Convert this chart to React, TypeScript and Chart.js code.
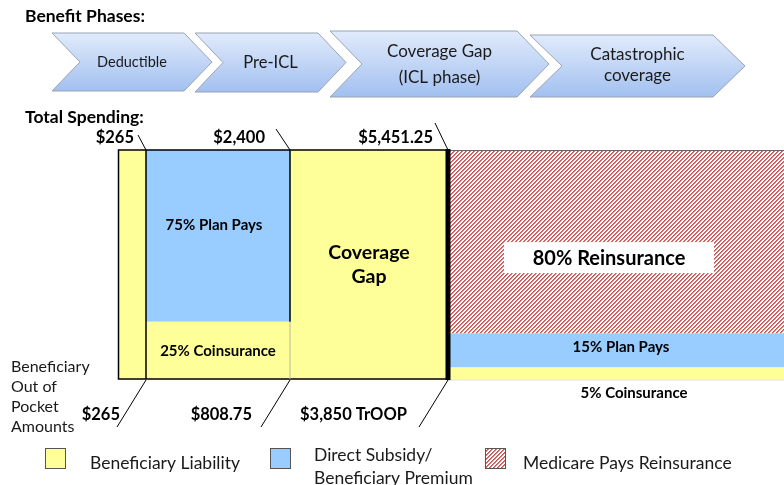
import React, { useEffect, useRef } from "react";
import { Chart, registerables } from "chart.js";
Chart.register(...registerables);

// ---- data ----
const phaseHeaders = [["Deductible"], ["Pre-ICL"], ["Coverage Gap", "(ICL phase)"], ["Catastrophic", "coverage"]];
const phaseWidth = [28, 144, 158, 336]; // schematic (not to scale) width of each phase
const beneficiaryShare = [100, 25, 100, 5];
const planShare = [0, 75, 0, 15];
const reinsuranceShare = [0, 0, 0, 80];
const totalSpendingLabels = ["$265", "$2,400", "$5,451.25"];
const outOfPocketLabels = ["$265", "$808.75", "$3,850 TrOOP"];
const legendLabels = [["Beneficiary Liability"], ["Direct Subsidy/", "Beneficiary Premium"], ["Medicare Pays Reinsurance"]];

const YELLOW = "#FFFF99";
const BLUE = "#99CCFF";
const FONT = "Lato, 'Open Sans', sans-serif";

function makeHatch(): CanvasPattern | string {
  const c = document.createElement("canvas");
  c.width = 8;
  c.height = 8;
  const g = c.getContext("2d");
  if (!g) return "#e8a0a0";
  const img = g.createImageData(8, 8);
  for (let y = 0; y < 8; y++) {
    for (let x = 0; x < 8; x++) {
      const d = (x + y) % 4;
      const i = (y * 8 + x) * 4;
      let r = 255, gg = 255, b = 255;
      if (d === 0) { r = 200; gg = 80; b = 78; }
      else if (d === 1) { r = 222; gg = 130; b = 128; }
      img.data[i] = r;
      img.data[i + 1] = gg;
      img.data[i + 2] = b;
      img.data[i + 3] = 255;
    }
  }
  g.putImageData(img, 0, 0);
  return g.createPattern(c, "repeat") || "#e8a0a0";
}

export default function App() {
  const ref = useRef<HTMLCanvasElement | null>(null);
  useEffect(() => {
    const canvas = ref.current;
    if (!canvas) return;
    const hatch = makeHatch();
    const edges = [0];
    phaseWidth.forEach((w) => edges.push(edges[edges.length - 1] + w));
    const total = edges[edges.length - 1];

    const datasets: any[] = [];
    phaseWidth.forEach((_, i) => {
      const layers = [
        { v: beneficiaryShare[i], c: YELLOW, n: "Beneficiary Liability" },
        { v: planShare[i], c: BLUE, n: "Direct Subsidy/Beneficiary Premium" },
        { v: reinsuranceShare[i], c: hatch, n: "Medicare Pays Reinsurance" },
      ];
      let base = 0;
      layers.forEach((l) => {
        if (l.v > 0) {
          datasets.push({
            label: l.n,
            data: [
              { x: edges[i], y: base + l.v },
              { x: edges[i + 1], y: base + l.v },
            ],
            fill: { value: base },
            backgroundColor: l.c,
            borderWidth: 0,
            pointRadius: 0,
            tension: 0,
          });
        }
        base += l.v;
      });
    });

    const deco = {
      id: "deco",
      afterDraw(chart: any) {
        const ctx = chart.ctx as CanvasRenderingContext2D;
        const xs = chart.scales.x;
        const ys = chart.scales.y;
        const X = (v: number) => xs.getPixelForValue(v);
        const Y = (v: number) => ys.getPixelForValue(v);
        const top = Y(100);
        const bot = Y(0);
        ctx.save();

        // ---- header ----
        ctx.fillStyle = "#000";
        ctx.textBaseline = "alphabetic";
        ctx.textAlign = "left";
        ctx.font = `bold 17.5px ${FONT}`;
        ctx.fillText("Benefit Phases:", 25, 22);
        ctx.fillText("Total Spending:", 25, 123);

        const chevrons = [
          { l: 52, r: 212, t: 33, b: 91, d: 28, f: 14.5, o: [0] },
          { l: 195, r: 346, t: 33, b: 92, d: 28, f: 16.5, o: [0] },
          { l: 330, r: 549, t: 31, b: 97, d: 32, f: 17, o: [-12, 14] },
          { l: 530, r: 745, t: 35, b: 97, d: 32, f: 17, o: [-11, 10] },
        ];
        chevrons.forEach((c, i) => {
          const m = (c.t + c.b) / 2;
          const grad = ctx.createLinearGradient(0, c.t, 0, c.b);
          grad.addColorStop(0, "#e1ebfb");
          grad.addColorStop(1, "#a2c0f0");
          ctx.beginPath();
          ctx.moveTo(c.l, c.t);
          ctx.lineTo(c.r - c.d, c.t);
          ctx.lineTo(c.r, m);
          ctx.lineTo(c.r - c.d, c.b);
          ctx.lineTo(c.l, c.b);
          ctx.lineTo(c.l + c.d, m);
          ctx.closePath();
          ctx.fillStyle = grad;
          ctx.fill();
          ctx.strokeStyle = "#9aa3b3";
          ctx.lineWidth = 1;
          ctx.stroke();
          const lines = phaseHeaders[i];
          const cx = (c.l + c.r) / 2;
          ctx.fillStyle = "#1a1a1a";
          ctx.font = `${c.f}px ${FONT}`;
          ctx.textAlign = "center";
          ctx.textBaseline = "middle";
          lines.forEach((s, j) => ctx.fillText(s, cx, m + c.o[j]));
        });

        // ---- borders ----
        ctx.strokeStyle = "#000";
        ctx.lineWidth = 1.5;
        ctx.strokeRect(X(edges[0]) + 0.5, top, X(edges[3]) - X(edges[0]), bot - top);
        ctx.beginPath();
        ctx.moveTo(X(edges[1]), top);
        ctx.lineTo(X(edges[1]), bot);
        ctx.moveTo(X(edges[2]), top);
        ctx.lineTo(X(edges[2]), Y(beneficiaryShare[1]));
        ctx.stroke();
        ctx.strokeStyle = "#b8b8a0";
        ctx.lineWidth = 1;
        ctx.beginPath();
        ctx.moveTo(X(edges[2]), Y(beneficiaryShare[1]));
        ctx.lineTo(X(edges[2]), bot);
        ctx.stroke();
        ctx.strokeStyle = "#666";
        ctx.beginPath();
        ctx.moveTo(X(edges[3]), top + 0.5);
        ctx.lineTo(X(edges[4]), top + 0.5);
        ctx.stroke();
        ctx.strokeStyle = "#ddd";
        ctx.beginPath();
        ctx.moveTo(X(edges[3]), bot + 1);
        ctx.lineTo(X(edges[4]), bot + 1);
        ctx.stroke();
        ctx.fillStyle = "#000";
        ctx.fillRect(X(edges[3]) - 2.5, top - 1, 5, bot - top + 2);

        // ---- leader lines & spending labels ----
        const leadTop = [[-8, -15], [-14, -21], [-13, -27]];
        const topLabelEnd = [-12, -25, -15];
        const botLabelEnd = [-26, -38, -41];
        ctx.strokeStyle = "#000";
        ctx.lineWidth = 1;
        ctx.font = `bold 16.5px ${FONT}`;
        ctx.textBaseline = "alphabetic";
        for (let k = 1; k <= 3; k++) {
          const ex = X(edges[k]);
          ctx.beginPath();
          ctx.moveTo(ex + leadTop[k - 1][0], top + leadTop[k - 1][1]);
          ctx.lineTo(ex, top);
          ctx.moveTo(ex, bot + 1);
          ctx.lineTo(ex - 29, bot + 48);
          ctx.stroke();
          ctx.textAlign = "right";
          ctx.fillStyle = "#000";
          ctx.fillText(totalSpendingLabels[k - 1], ex + topLabelEnd[k - 1], 143);
          ctx.fillText(outOfPocketLabels[k - 1], ex + botLabelEnd[k - 1], 420);
        }

        // ---- left caption ----
        ctx.font = `16px ${FONT}`;
        ctx.textAlign = "left";
        ctx.fillStyle = "#1a1a1a";
        ["Beneficiary", "Out of", "Pocket", "Amounts"].forEach((s, i) => ctx.fillText(s, 11, 372 + i * 20));

        // ---- segment labels ----
        ctx.fillStyle = "#000";
        ctx.textAlign = "center";
        ctx.textBaseline = "middle";
        ctx.font = `bold 15px ${FONT}`;
        const midX = (a: number, b: number) => (X(a) + X(b)) / 2;
        ctx.fillText(`${planShare[1]}% Plan Pays`, midX(edges[1], edges[2]) - 4, Y(67));
        ctx.fillText(`${beneficiaryShare[1]}% Coinsurance`, midX(edges[1], edges[2]), Y(beneficiaryShare[1] / 2) + 1);
        ctx.fillText(`${planShare[3]}% Plan Pays`, midX(edges[3], edges[4]) + 5, Y(beneficiaryShare[3] + planShare[3] / 2 + 1.5));
        ctx.fillText(`${beneficiaryShare[3]}% Coinsurance`, midX(edges[3], edges[4]) + 18, bot + 14);

        ctx.font = `bold 19.5px ${FONT}`;
        const gx = midX(edges[2], edges[3]);
        ctx.fillText("Coverage", gx, Y(50) - 12);
        ctx.fillText("Gap", gx, Y(50) + 12);

        const rx = midX(edges[3], edges[4]) - 7;
        const ry = Y(beneficiaryShare[3] + planShare[3] + reinsuranceShare[3] * 0.41);
        ctx.fillStyle = "#fff";
        ctx.fillRect(rx - 105, ry - 16, 210, 31);
        ctx.fillStyle = "#000";
        ctx.font = `bold 20px ${FONT}`;
        ctx.fillText(`${reinsuranceShare[3]}% Reinsurance`, rx, ry);

        // ---- legend ----
        const legendX = [45, 270, 485];
        const legendTextX = [90, 314, 523];
        const legendFill = [YELLOW, BLUE, hatch];
        legendLabels.forEach((lines, i) => {
          const bx = legendX[i];
          ctx.fillStyle = legendFill[i] as any;
          ctx.fillRect(bx, 448, 21, 21);
          ctx.strokeStyle = "#555";
          ctx.lineWidth = 1;
          ctx.strokeRect(bx + 0.5, 448.5, 20, 20);
          ctx.fillStyle = "#1a1a1a";
          ctx.font = `17.5px ${FONT}`;
          ctx.textAlign = "left";
          ctx.textBaseline = "middle";
          const tx = legendTextX[i];
          if (lines.length === 1) ctx.fillText(lines[0], tx, 463);
          else {
            ctx.fillText(lines[0], tx, 455);
            ctx.fillText(lines[1], tx, 478);
          }
        });
        ctx.restore();
      },
    };

    const chart = new Chart(canvas, {
      type: "line",
      data: { datasets },
      options: {
        animation: false,
        responsive: false,
        layout: { padding: { left: 118, right: 0, top: 150, bottom: 106 } },
        plugins: { legend: { display: false }, tooltip: { enabled: false } },
        scales: {
          x: { type: "linear", min: 0, max: total, display: false },
          y: { min: 0, max: 100, display: false },
        },
      },
      plugins: [deco],
    });
    return () => chart.destroy();
  }, []);

  return (
    <div style={{ position: "absolute", left: 0, top: 0, width: 784, height: 485, background: "#fff" }}>
      <canvas ref={ref} width={784} height={485} />
    </div>
  );
}
